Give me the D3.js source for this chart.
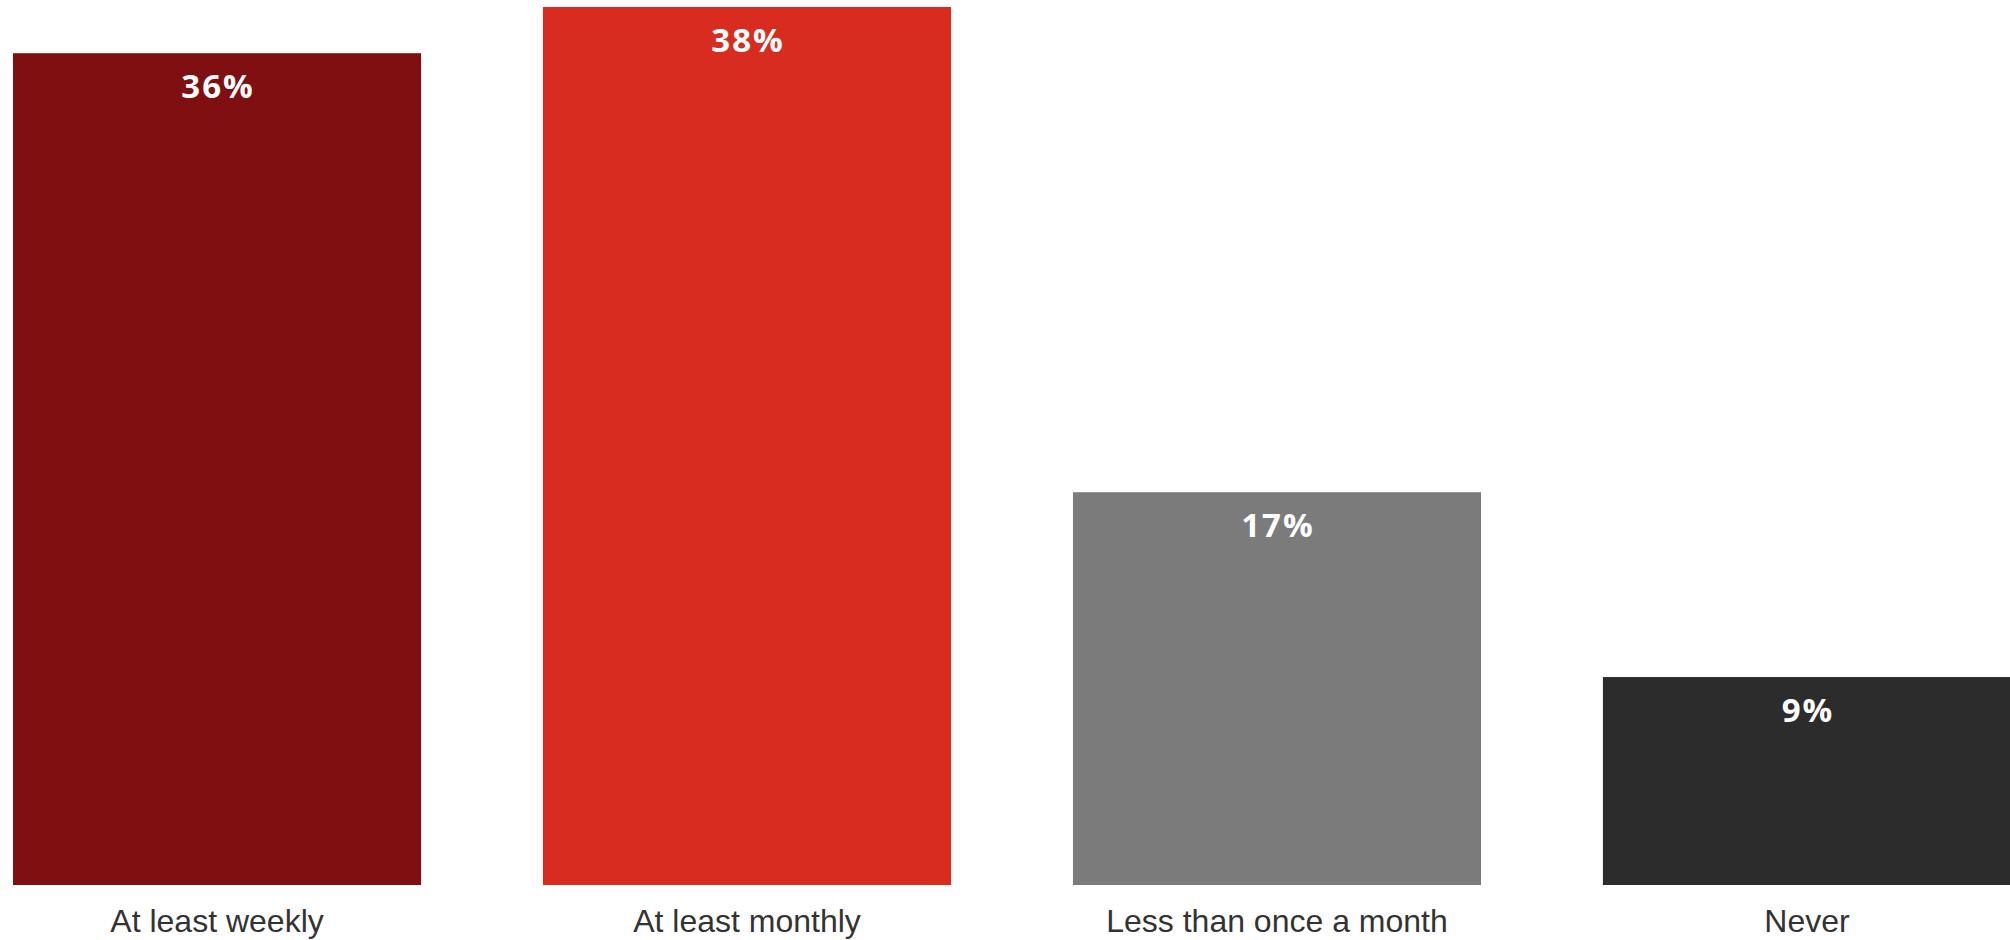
<!DOCTYPE html>
<html>
<head>
<meta charset="utf-8">
<script src="https://cdn.jsdelivr.net/npm/d3@7"></script>
<style>
html,body{margin:0;padding:0;background:#fff;}
svg{display:block;}
</style>
</head>
<body>
<svg id="chart" width="2010" height="940"></svg>
<script>
const categories = ["At least weekly", "At least monthly", "Less than once a month", "Never"];
const values = [36, 38, 17, 9];
const colors = ["#7f0f11", "#d72c1f", "#7b7b7b", "#2c2c2c"];

const svg = d3.select("#chart");
const x = d3.scaleBand().domain(categories).range([13, 2011]).paddingInner(0.23).paddingOuter(0);
const y = d3.scaleLinear().domain([0, 38]).range([885, 7]);

svg.selectAll("rect.bar").data(values).join("rect")
  .attr("class", "bar")
  .attr("x", (d, i) => x(categories[i]))
  .attr("y", d => y(d))
  .attr("width", x.bandwidth())
  .attr("height", d => y(0) - y(d))
  .attr("fill", (d, i) => colors[i]);

svg.selectAll("text.val").data(values).join("text")
  .attr("class", "val")
  .attr("x", (d, i) => x(categories[i]) + x.bandwidth() / 2 + 1)
  .attr("y", d => y(d) + 45)
  .attr("text-anchor", "middle")
  .attr("fill", "#fff")
  .style("font-family", "'Open Sans', sans-serif")
  .style("font-weight", 700)
  .style("font-size", "33px")
  .style("letter-spacing", "2px")
  .text(d => d + "%");

const xAxis = svg.append("g").attr("transform", "translate(0,885)")
  .call(d3.axisBottom(x).tickSize(0).tickPadding(0));
xAxis.select(".domain").remove();
xAxis.selectAll("text")
  .attr("dy", null)
  .attr("y", 47)
  .attr("fill", "#333")
  .style("font-family", "'Liberation Sans', Arial, sans-serif")
  .style("font-size", "32px");
</script>
</body>
</html>
